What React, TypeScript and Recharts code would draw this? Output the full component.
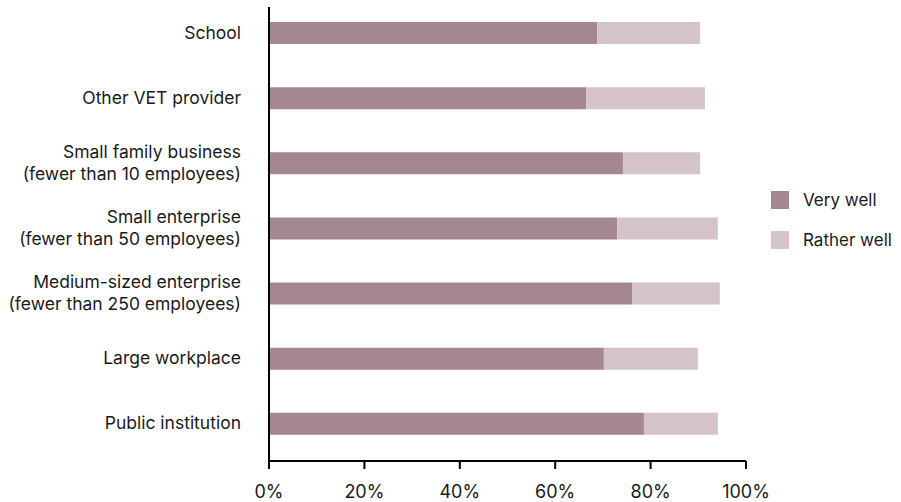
import { BarChart, Bar, XAxis, YAxis } from "recharts";

const categories = [
  "School",
  "Other VET provider",
  "Small family business\n(fewer than 10 employees)",
  "Small enterprise\n(fewer than 50 employees)",
  "Medium-sized enterprise\n(fewer than 250 employees)",
  "Large workplace",
  "Public institution",
];
const veryWell = [68.8, 66.5, 74.2, 73.0, 76.1, 70.2, 78.6];
const ratherWell = [21.6, 24.9, 16.2, 21.1, 18.4, 19.7, 15.5];
const xTicks = [0, 20, 40, 60, 80, 100];
const seriesNames = ["Very well", "Rather well"];

const DARK = "#a5878f";
const LIGHT = "#d4c4c8";
const FONT = "Inter, 'Noto Sans', sans-serif";
const TEXT = "#1a1a1a";

const data = categories.map((name, i) => ({
  name,
  veryWell: veryWell[i],
  ratherWell: ratherWell[i],
}));

function CategoryTick({ x, y, payload }: any) {
  const lines = String(payload.value).split("\n");
  const lh = 22;
  return (
    <text x={x} y={y} textAnchor="end" fill={TEXT} fontSize={17.5} fontFamily={FONT}>
      {lines.map((l, i) => (
        <tspan key={i} x={x} dy={i === 0 ? -((lines.length - 1) * lh) / 2 + 6 : lh}>
          {l}
        </tspan>
      ))}
    </text>
  );
}

function LegendBox() {
  const colors = [DARK, LIGHT];
  return (
    <div
      style={{
        position: "absolute",
        left: 771,
        top: 191,
        fontFamily: FONT,
        fontSize: 17,
        color: TEXT,
      }}
    >
      {seriesNames.map((label, i) => (
        <div key={label} style={{ display: "flex", alignItems: "center", height: 18, marginBottom: 22 }}>
          <span style={{ width: 18, height: 18, background: colors[i], display: "inline-block", marginRight: 14 }} />
          <span>{label}</span>
        </div>
      ))}
    </div>
  );
}

export default function App() {
  return (
    <div style={{ position: "absolute", left: 0, top: 0, width: 901, height: 502, background: "#fff" }}>
      <BarChart
        width={901}
        height={502}
        data={data}
        layout="vertical"
        margin={{ top: 7, right: 155, bottom: 0, left: 0 }}
        barSize={22}
      >
        <XAxis
          type="number"
          domain={[0, 100]}
          ticks={xTicks}
          tickFormatter={(v) => `${v}%`}
          height={41}
          stroke="#000"
          strokeWidth={2}
          tickSize={8}
          tickMargin={16}
          tick={{ fill: TEXT, fontSize: 18, fontFamily: FONT }}
          interval={0}
        />
        <YAxis
          type="category"
          dataKey="name"
          width={269}
          stroke="#000"
          strokeWidth={2}
          tickLine={false}
          tickSize={6}
          tickMargin={22}
          tick={<CategoryTick />}
          interval={0}
          padding={{ top: -7, bottom: 5 }}
        />
        <Bar dataKey="veryWell" name={seriesNames[0]} stackId="a" fill={DARK} isAnimationActive={false} />
        <Bar dataKey="ratherWell" name={seriesNames[1]} stackId="a" fill={LIGHT} isAnimationActive={false} />
      </BarChart>
      <LegendBox />
    </div>
  );
}
